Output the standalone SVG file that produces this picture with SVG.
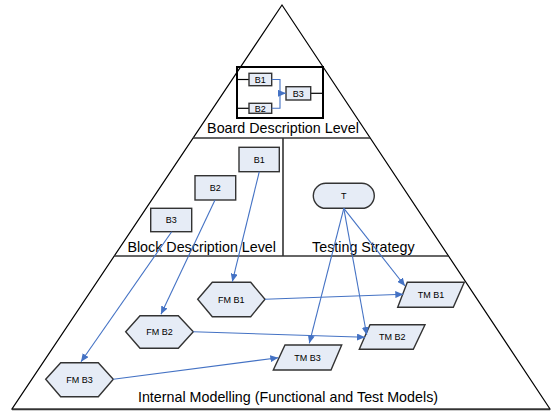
<svg xmlns="http://www.w3.org/2000/svg" width="551" height="411" viewBox="0 0 551 411">
<style>
.frame{fill:none;stroke:#000;stroke-width:1.2}
.div{fill:none;stroke:#333;stroke-width:1.6}
.node{fill:#e6ecf6;stroke:#333;stroke-width:1.4}
.bl{fill:none;stroke:#000;stroke-width:1.2}
.big{font-family:"Liberation Sans",Arial,sans-serif;font-size:14.3px;fill:#000;text-anchor:middle}
.sm{font-family:"Liberation Sans",Arial,sans-serif;font-size:9px;fill:#000;text-anchor:middle;dominant-baseline:central}
.c{fill:none;stroke:#4472c4;stroke-width:1.1}
</style>
<defs>
<marker id="ah" markerWidth="8" markerHeight="7" refX="8" refY="3.5" orient="auto" markerUnits="userSpaceOnUse">
<path d="M0,0 L8,3.5 L0,7 z" fill="#4472c4"/>
</marker>
</defs>
<rect width="551" height="411" fill="#fff"/>
<g id="pyramid">
<polygon class="frame" points="282,5 12,409 550,409"/>
<line class="div" x1="193" y1="138" x2="370" y2="138"/>
<line class="div" x1="114" y1="256" x2="448" y2="256"/>
<line class="div" x1="283" y1="138" x2="283" y2="256"/>
<line class="div" x1="12" y1="409.5" x2="550" y2="409.5"/>
</g>
<g id="board">
<rect x="237" y="67" width="86" height="51" fill="none" stroke="#000" stroke-width="2"/>
<line class="bl" x1="237" y1="79.5" x2="249" y2="79.5"/>
<line class="bl" x1="237" y1="108.3" x2="249" y2="108.3"/>
<line class="bl" x1="311" y1="93.3" x2="323" y2="93.3"/>
<g id="board-B1"><rect class="node" x="249" y="73.3" width="22.7" height="12.4"/><text class="sm" x="260.3" y="79.7">B1</text></g>
<g id="board-B2"><rect class="node" x="249" y="103.3" width="22.7" height="10"/><text class="sm" x="260.3" y="108.5">B2</text></g>
<g id="board-B3"><rect class="node" x="286" y="86.7" width="24.7" height="13.3"/><text class="sm" x="298.3" y="93.5">B3</text></g>
<text class="big" x="283" y="133.3">Board Description Level</text>
</g>
<text class="big" x="201.7" y="251.7">Block Description Level</text>
<text class="big" x="363.3" y="251.7">Testing Strategy</text>
<text class="big" x="288" y="401.7">Internal Modelling (Functional and Test Models)</text>
<g id="B1"><rect class="node" x="239" y="147.3" width="40.3" height="24.4"/><text class="sm" x="259.2" y="159.5">B1</text></g>
<g id="B2"><rect class="node" x="195" y="175.7" width="40.7" height="24.3"/><text class="sm" x="215.3" y="187.8">B2</text></g>
<g id="B3"><rect class="node" x="150.7" y="208.3" width="41" height="23.4"/><text class="sm" x="171.2" y="220">B3</text></g>
<g id="T"><rect class="node" x="313.3" y="183.3" width="61" height="25" rx="12.5"/><text class="sm" x="343.8" y="195.8">T</text></g>
<g id="FMB1"><polygon class="node" points="197.7,299.3 212.3,282.3 250.7,282.3 265,299.3 250.7,316.7 212.3,316.7"/><text class="sm" x="231.3" y="299.5">FM B1</text></g>
<g id="FMB2"><polygon class="node" points="125.7,331.7 140,315.7 178.3,315.7 193.3,331.7 178.3,348.3 140,348.3"/><text class="sm" x="159.5" y="332">FM B2</text></g>
<g id="FMB3"><polygon class="node" points="45.7,379.3 60.7,362.7 98.3,362.7 113.3,379.3 98.3,396.7 60.7,396.7"/><text class="sm" x="79.5" y="379.5">FM B3</text></g>
<g id="TMB1"><polygon class="node" points="407.3,282.3 464.3,282.3 453.3,307.3 397.7,307.3"/><text class="sm" x="431" y="295">TM B1</text></g>
<g id="TMB2"><polygon class="node" points="370,324.7 425,324.7 413.3,349.3 359.3,349.3"/><text class="sm" x="392.3" y="337">TM B2</text></g>
<g id="TMB3"><polygon class="node" points="285,345 341.7,345 331,370 273.3,370"/><text class="sm" x="307.5" y="357.7">TM B3</text></g>
<g id="connectors">
<path class="c" d="M271.7,79.5 H280 V93.3 H286" marker-end="url(#ah)"/>
<path class="c" d="M271.7,108.3 H280 V93.3"/>
<line class="c" x1="259.3" y1="171.7" x2="232.3" y2="281.7" marker-end="url(#ah)"/>
<line class="c" x1="215" y1="200" x2="161" y2="314.3" marker-end="url(#ah)"/>
<line class="c" x1="171.7" y1="231.7" x2="81" y2="361.7" marker-end="url(#ah)"/>
<line class="c" x1="343.8" y1="208.3" x2="405" y2="286" marker-end="url(#ah)"/>
<line class="c" x1="343.8" y1="208.3" x2="366.7" y2="335" marker-end="url(#ah)"/>
<line class="c" x1="343.8" y1="208.3" x2="309.3" y2="343.3" marker-end="url(#ah)"/>
<line class="c" x1="265" y1="299.3" x2="403.3" y2="294.3" marker-end="url(#ah)"/>
<line class="c" x1="193.3" y1="331.7" x2="365" y2="337.3" marker-end="url(#ah)"/>
<line class="c" x1="113.3" y1="379.3" x2="278.3" y2="357.7" marker-end="url(#ah)"/>
</g>
</svg>
